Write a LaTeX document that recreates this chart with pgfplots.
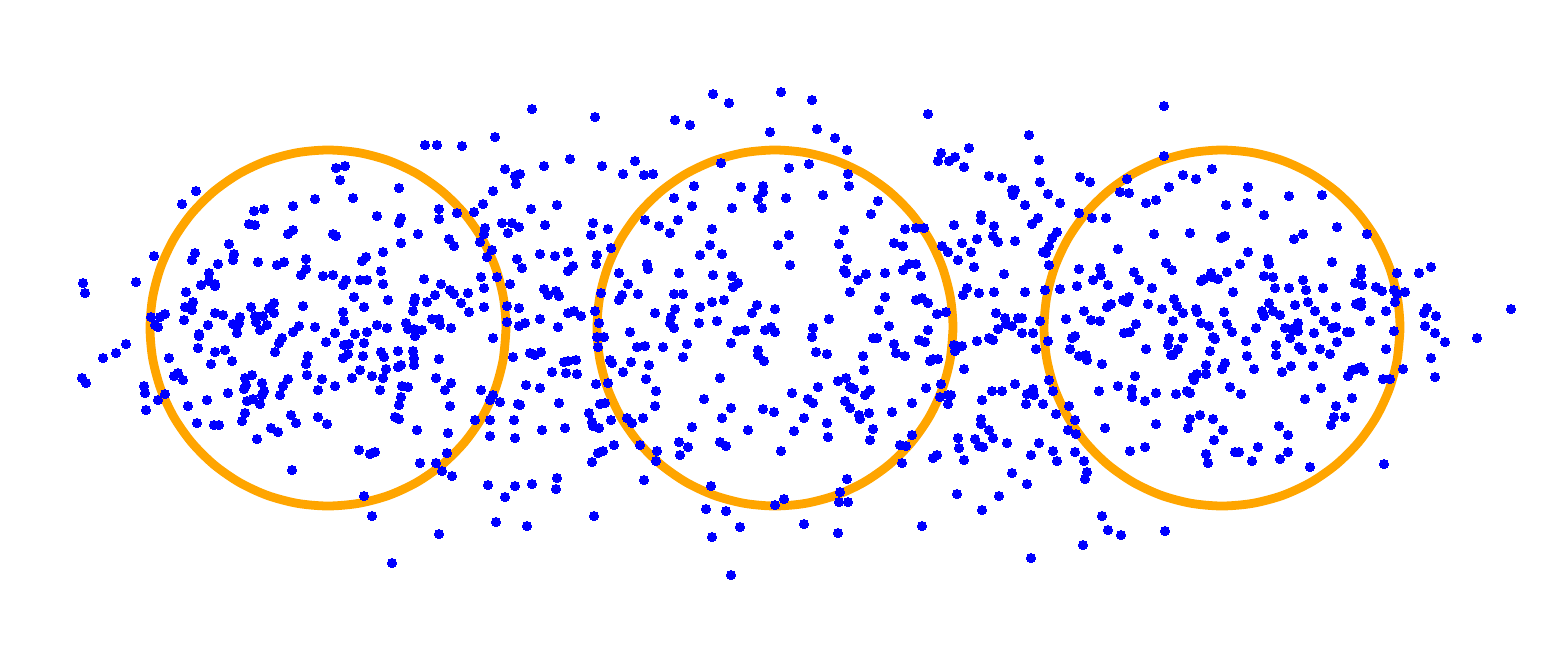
\documentclass[border=0pt]{standalone}
\usepackage{pgfplots}
\pgfplotsset{compat=1.18}
\definecolor{mplorange}{RGB}{255,165,0}
\definecolor{mplblue}{RGB}{0,0,255}

\begin{document}
\begin{tikzpicture}
\begin{axis}[width=15.48cm,height=6.55cm,scale only axis,
  xmin=0,xmax=1548,ymin=0,ymax=655,y dir=reverse,
  axis line style={draw=none},xtick=\empty,ytick=\empty,clip=false]
% rings (pixel coordinates, 10 degree steps)
\addplot[mplorange,line width=2.5pt,smooth,mark=none] coordinates {
(506,328)(503.3,358.9)(495.3,388.9)(482.2,417)(464.4,442.4)(442.4,464.4)(417,482.2)(388.9,495.3)(358.9,503.3)
(328,506)(297.1,503.3)(267.1,495.3)(239,482.2)(213.6,464.4)(191.6,442.4)(173.8,417)(160.7,388.9)(152.7,358.9)
(150,328)(152.7,297.1)(160.7,267.1)(173.8,239)(191.6,213.6)(213.6,191.6)(239,173.8)(267.1,160.7)(297.1,152.7)
(328,150)(358.9,152.7)(388.9,160.7)(417,173.8)(442.4,191.6)(464.4,213.6)(482.2,239)(495.3,267.1)(503.3,297.1)(506,328)(503.3,358.9)};
\addplot[mplorange,line width=2.5pt,smooth,mark=none] coordinates {
(953,328)(950.3,358.9)(942.3,388.9)(929.2,417)(911.4,442.4)(889.4,464.4)(864,482.2)(835.9,495.3)(805.9,503.3)
(775,506)(744.1,503.3)(714.1,495.3)(686,482.2)(660.6,464.4)(638.6,442.4)(620.8,417)(607.7,388.9)(599.7,358.9)
(597,328)(599.7,297.1)(607.7,267.1)(620.8,239)(638.6,213.6)(660.6,191.6)(686,173.8)(714.1,160.7)(744.1,152.7)
(775,150)(805.9,152.7)(835.9,160.7)(864,173.8)(889.4,191.6)(911.4,213.6)(929.2,239)(942.3,267.1)(950.3,297.1)(953,328)(950.3,358.9)};
\addplot[mplorange,line width=2.5pt,smooth,mark=none] coordinates {
(1400,328)(1397.3,358.9)(1389.3,388.9)(1376.2,417)(1358.4,442.4)(1336.4,464.4)(1311,482.2)(1282.9,495.3)(1252.9,503.3)
(1222,506)(1191.1,503.3)(1161.1,495.3)(1133,482.2)(1107.6,464.4)(1085.6,442.4)(1067.8,417)(1054.7,388.9)(1046.7,358.9)
(1044,328)(1046.7,297.1)(1054.7,267.1)(1067.8,239)(1085.6,213.6)(1107.6,191.6)(1133,173.8)(1161.1,160.7)(1191.1,152.7)
(1222,150)(1252.9,152.7)(1282.9,160.7)(1311,173.8)(1336.4,191.6)(1358.4,213.6)(1376.2,239)(1389.3,267.1)(1397.3,297.1)(1400,328)(1397.3,358.9)};
% scattered points
\addplot[only marks,color=mplblue,mark=*,mark size=1.3pt,mark options={fill=mplblue,draw=mplblue,line width=0pt}] coordinates {
(196,191)(182,204)(254,211)(264,209)(293,206)(315,199)(249,224)(255,225)(293,230)(288,234)(229,244)(195,253)(192,260)(234,254)(233,260)(218,264)(258,262)(277,265)(284,262)(306,259)(306,269)(301,275)(154,256)(136,282)(83,283)(85,293)(209,273)(209,281)(215,284)(215,286)(201,285)(186,292)(193,302)(185,307)(192,310)(151,317)(160,317)(165,314)(155,325)(158,327)(184,320)(215,313)(223,315)(251,307)(274,303)(269,308)(274,313)(303,306)(240,317)(233,324)(237,326)(239,323)(208,325)(255,316)(263,316)(256,322)(267,325)(260,330)(299,326)(293,332)(315,327)(199,334)(237,333)
(532,109)(425,145)(437,145)(462,146)(495,137)(336,168)(345,166)(340,180)(544,166)(505,169)(515,176)(520,174)(516,184)(493,191)(399,188)(353,198)(483,204)(439,209)(439,219)(457,213)(474,212)(531,209)(557,205)(377,216)(401,218)(399,223)(502,223)(512,223)(519,227)(508,233)(545,225)(333,234)(336,236)(418,234)(485,228)(484,234)(480,242)(449,239)(454,246)(401,243)(492,250)(487,257)(540,254)(555,256)(517,259)(522,268)(383,252)(366,257)(362,261)(381,271)(323,276)(333,275)(346,280)(343,285)(360,280)(367,280)(383,284)(424,279)(481,277)(497,277)(510,284)(484,288)(441,284)(435,295)(450,290)(454,294)(468,293)(461,303)(469,312)(544,289)(548,295)(556,291)(559,296)(354,297)(364,307)(388,300)(415,298)(414,302)(413,311)(427,302)(484,307)(507,306)(519,308)(343,312)(344,321)(540,319)(432,319)(439,319)(440,325)(451,328)(507,322)(519,326)(525,323)(377,325)(387,328)(406,323)(408,329)(414,329)(422,330)(335,333)(355,334)(367,332)(558,327)
(713,94)(729,103)(781,92)(595,117)(675,120)(690,125)(770,132)(570,159)(602,166)(635,161)(623,174)(644,175)(653,174)(721,163)(789,168)(694,186)(741,187)(763,186)(763,192)(758,199)(762,208)(786,198)(674,198)(692,206)(732,208)(645,220)(659,226)(678,220)(670,233)(593,223)(608,229)(591,235)(611,248)(712,229)(710,245)(700,255)(722,254)(789,235)(778,245)(790,265)(568,252)(597,255)(596,264)(573,266)(568,271)(647,264)(648,269)(619,273)(679,273)(713,275)(732,276)(738,283)(733,287)(628,284)(601,293)(622,295)(619,300)(638,294)(674,294)(683,294)(675,309)(712,302)(724,300)(700,307)(568,313)(574,311)(581,316)(595,311)(599,323)(655,313)(671,317)(670,323)(674,328)(699,323)(717,321)(757,305)(752,313)(775,309)(737,331)(745,330)(765,330)(771,327)(775,332)(630,332)
(812,100)(928,114)(817,129)(835,138)(847,150)(809,164)(1029,135)(941,153)(938,161)(949,161)(955,157)(969,148)(964,167)(1039,160)(848,174)(849,186)(823,195)(989,176)(1002,178)(1040,182)(1012,190)(1015,190)(1013,195)(1048,194)(1025,205)(878,201)(871,214)(981,215)(981,220)(1038,218)(1032,224)(954,225)(994,226)(905,229)(916,228)(924,228)(844,230)(839,244)(894,243)(903,246)(942,246)(948,252)(962,243)(971,252)(958,260)(974,267)(977,239)(993,236)(998,242)(1015,241)(1043,252)(1046,253)(1049,246)(1049,265)(847,259)(844,270)(846,273)(858,280)(866,274)(885,273)(909,264)(916,264)(903,270)(921,276)(1004,274)(850,292)(885,297)(879,310)(916,300)(922,298)(928,303)(937,314)(946,312)(967,288)(963,295)(979,293)(994,292)(1025,292)(1045,290)(829,319)(813,328)(889,326)(928,330)(996,313)(1005,318)(1006,324)(1012,326)(1018,318)(1022,318)(998,329)(1040,321)(1022,333)(1033,333)
(1164,106)(1164,156)(1212,169)(1080,177)(1090,182)(1127,179)(1120,192)(1129,193)(1183,175)(1196,179)(1169,187)(1146,203)(1156,200)(1248,187)(1289,196)(1247,203)(1226,205)(1264,215)(1060,203)(1079,213)(1092,218)(1106,218)(1057,232)(1052,238)(1154,234)(1190,233)(1221,238)(1225,236)(1294,239)(1118,249)(1248,252)(1079,269)(1100,268)(1101,275)(1093,280)(1108,285)(1077,286)(1060,289)(1166,263)(1172,270)(1134,272)(1139,280)(1152,288)(1201,281)(1204,279)(1211,273)(1212,277)(1218,279)(1227,272)(1240,264)(1268,259)(1269,264)(1264,276)(1273,277)(1275,288)(1289,288)(1233,292)(1123,300)(1129,297)(1127,302)(1107,307)(1111,304)(1148,304)(1174,299)(1177,306)(1183,313)(1162,309)(1084,311)(1066,319)(1091,320)(1100,321)(1136,324)(1130,332)(1124,333)(1173,321)(1196,309)(1197,312)(1201,323)(1209,326)(1224,312)(1227,324)(1269,303)(1262,311)(1264,316)(1273,311)(1280,315)(1295,305)(1256,328)(1285,328)(1292,329)(1232,332)
(1322,195)(1337,227)(1303,234)(1367,234)(1332,262)(1361,269)(1361,275)(1397,273)(1419,273)(1431,267)(1303,280)(1306,290)(1323,288)(1355,283)(1362,285)(1376,287)(1382,291)(1394,290)(1397,294)(1405,292)(1395,302)(1308,302)(1315,311)(1336,307)(1356,304)(1361,302)(1361,306)(1386,311)(1370,321)(1324,321)(1332,328)(1336,327)(1347,332)(1350,332)(1298,323)(1298,331)(1314,333)(1394,331)(1424,313)(1427,308)(1436,316)(1425,326)(1435,333)(1511,309)
(126,344)(116,353)(103,358)(82,378)(86,383)(144,386)(145,393)(146,410)(158,400)(165,394)(169,358)(174,376)(178,373)(183,380)(188,406)(199,336)(198,348)(215,352)(225,350)(232,361)(211,364)(207,400)(197,423)(214,425)(219,425)(228,393)(245,378)(252,375)(246,385)(244,389)(247,401)(253,399)(262,383)(264,391)(262,395)(260,404)(245,413)(242,421)(257,439)(271,428)(278,432)(275,352)(279,343)(282,338)(288,379)(283,386)(280,395)(291,415)(296,423)(292,470)(308,356)(306,364)(307,375)
(326,342)(344,345)(349,344)(343,358)(348,354)(364,343)(363,356)(381,352)(384,357)(398,351)(413,351)(414,358)(414,365)(415,336)(398,367)(401,365)(386,369)(383,378)(360,370)(372,376)(352,378)(322,379)(318,390)(335,386)(380,390)(402,386)(408,387)(401,397)(399,405)(395,417)(399,419)(318,417)(327,424)(417,430)(439,359)(436,378)(445,390)(451,383)(450,406)(448,433)(493,338)(513,357)(530,353)(535,355)(541,352)(552,372)(526,385)(540,388)(481,390)(493,395)(490,400)(500,402)(518,404)(520,405)(559,403)(475,420)(490,420)(514,420)(490,436)(515,438)(542,430)(359,450)(370,454)(375,452)(447,453)(420,463)(436,463)(442,471)(452,476)(488,485)(515,486)(532,484)(505,497)(557,478)(556,489)(364,496)(372,516)(496,522)(527,526)(439,534)(392,563)
(597,337)(604,337)(598,347)(637,347)(645,346)(663,347)(687,344)(683,357)(731,343)(758,350)(758,355)(764,361)(564,362)(568,361)(576,360)(566,373)(577,374)(610,360)(612,363)(631,362)(649,365)(623,372)(646,379)(596,384)(608,383)(656,391)(720,378)(704,399)(792,393)(600,404)(605,403)(655,406)(731,408)(722,418)(763,409)(774,412)(804,418)(589,413)(592,422)(593,426)(599,428)(611,420)(565,428)(627,418)(632,423)(643,418)(692,427)(748,430)(794,431)(614,445)(640,445)(657,451)(656,461)(679,442)(680,455)(688,447)(720,442)(726,446)(781,451)(598,453)(603,451)(592,462)(644,480)(711,486)(784,499)(775,505)(706,509)(726,511)(804,524)(594,516)(740,527)(712,537)(731,575)
(812,337)(873,338)(877,338)(894,344)(896,353)(905,356)(919,340)(925,342)(816,352)(827,354)(863,356)(864,370)(930,361)(933,359)(938,359)(954,345)(955,351)(962,346)(977,341)(989,338)(993,340)(1036,349)(1048,341)(964,369)(838,381)(846,378)(818,387)(850,387)(854,389)(870,390)(865,395)(808,399)(813,403)(845,401)(850,408)(859,415)(860,419)(869,413)(892,412)(912,403)(926,388)(941,384)(940,397)(948,395)(951,395)(948,404)(982,400)(992,391)(1002,391)(1015,384)(1027,394)(1033,389)(1034,395)(1026,404)(1043,404)(1049,380)(827,423)(828,437)(873,429)(870,440)(900,445)(906,446)(912,435)(902,463)(933,458)(937,455)(981,419)(981,424)(989,430)(993,438)(975,439)(979,446)(983,447)(958,438)(959,448)(964,460)(1007,443)(1039,443)(1031,455)(1012,473)(1027,484)(999,496)(982,510)(957,494)(847,479)(840,492)(839,502)(848,502)(838,533)(922,526)(1031,558)
(1072,338)(1075,336)(1169,338)(1168,345)(1183,338)(1178,349)(1171,355)(1173,355)(1213,337)(1215,339)(1246,341)(1276,345)(1276,355)(1290,338)(1070,349)(1079,356)(1086,355)(1087,360)(1102,364)(1146,349)(1210,351)(1247,356)(1206,365)(1206,374)(1225,363)(1222,369)(1254,369)(1282,372)(1291,366)(1135,376)(1118,386)(1099,391)(1132,389)(1132,397)(1145,401)(1156,393)(1176,394)(1187,391)(1190,393)(1193,377)(1197,374)(1194,380)(1230,387)(1241,394)(1053,391)(1069,406)(1056,414)(1075,420)(1068,430)(1076,434)(1105,428)(1156,424)(1190,419)(1188,428)(1200,415)(1213,419)(1223,430)(1214,440)(1279,426)(1288,435)(1053,451)(1057,461)(1075,452)(1084,461)(1087,472)(1085,479)(1130,451)(1145,447)(1206,454)(1208,463)(1235,452)(1239,452)(1258,447)(1252,461)(1288,452)(1280,459)(1102,516)(1108,530)(1121,535)(1083,545)(1165,531)
(1299,347)(1302,350)(1320,349)(1330,354)(1337,342)(1313,366)(1386,349)(1348,376)(1352,370)(1356,369)(1361,367)(1364,371)(1321,388)(1305,399)(1352,398)(1336,406)(1334,417)(1345,417)(1331,425)(1383,379)(1390,379)(1403,369)(1445,342)(1431,358)(1435,377)(1477,338)(1310,467)(1384,464)
};
\end{axis}
\end{tikzpicture}
\end{document}
